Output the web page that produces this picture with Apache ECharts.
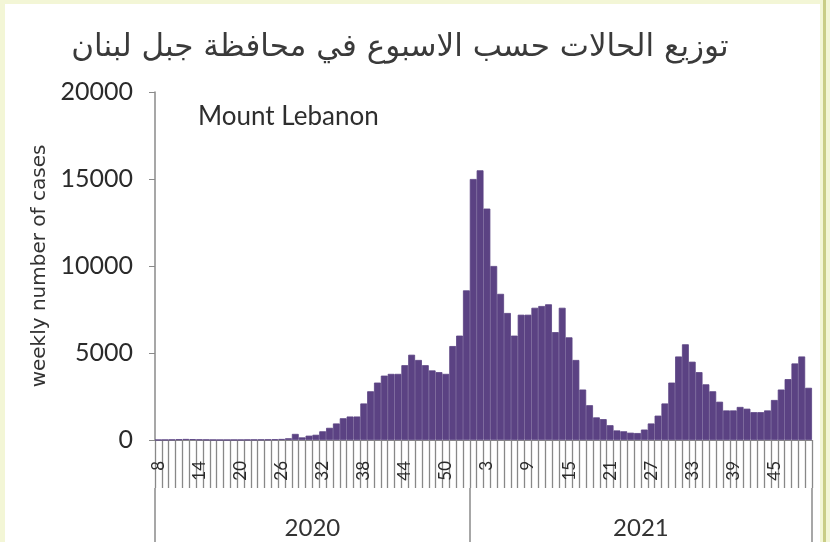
<!DOCTYPE html>
<html>
<head>
<meta charset="utf-8">
<script src="https://cdn.jsdelivr.net/npm/echarts@6/dist/echarts.min.js"></script>
<style>
  html, body { margin: 0; padding: 0; background: #f3f6d6; }
  #wrap { position: absolute; left: 0; top: 0; width: 830px; height: 542px; }
  #chart { position: absolute; left: 5px; top: 4px; width: 815px; height: 538px; background: #ffffff; }
  #edge { position: absolute; left: 823px; top: 0; width: 3px; height: 542px; background: #c9cd86; }
</style>
</head>
<body>
<div id="wrap"><div id="chart"></div><div id="edge"></div></div>
<script>
// ---- data ----
const weeks2020 = [8,9,10,11,12,13,14,15,16,17,18,19,20,21,22,23,24,25,26,27,28,29,30,31,32,33,34,35,36,37,38,39,40,41,42,43,44,45,46,47,48,49,50,51,52,53];
const weeks2021 = [1,2,3,4,5,6,7,8,9,10,11,12,13,14,15,16,17,18,19,20,21,22,23,24,25,26,27,28,29,30,31,32,33,34,35,36,37,38,39,40,41,42,43,44,45,46,47,48,49,50];
const cases2020 = [5,10,20,40,60,50,30,20,10,5,5,10,10,15,20,25,30,40,60,
  100,350,150,250,300,500,700,950,1250,1350,1350,2100,2800,3300,3700,3800,3800,4300,4900,4600,4300,4000,3900,3800,5400,6000,8600];
const cases2021 = [15000,15500,13300,10000,8400,7300,6000,7200,7200,7600,7700,7800,6200,7600,5900,4600,2900,2000,1300,1200,
  850,550,500,420,400,600,950,1400,2100,3300,4800,5500,4500,3900,3200,2800,2200,1700,1700,1900,
  1800,1600,1600,1700,2300,2900,3500,4400,4800,3000];
const years = ['2020', '2021'];
const yTicks = [0, 5000, 10000, 15000, 20000];
const titleText = 'توزيع الحالات حسب الاسبوع في محافظة جبل لبنان';
const subTitle = 'Mount Lebanon';
const yName = 'weekly number of cases';

// ---- build ----
const categories = weeks2020.map(String).concat(weeks2021.map(String));
const values = cases2020.concat(cases2021);
const n2020 = weeks2020.length;
const nAll = categories.length;
const yearBounds = [0, n2020, nAll];
const yearMids = [n2020 / 2, n2020 + (nAll - n2020) / 2];

const chart = echarts.init(document.getElementById('chart'), null, { renderer: 'canvas' });
const font = 'Lato, "Open Sans", sans-serif';
const barColor = '#5b4283';
chart.setOption({
  animation: false,
  backgroundColor: '#ffffff',
  title: [
    { text: titleText, left: 390, top: 23, textAlign: 'center',
      textStyle: { fontFamily: '"DejaVu Sans", "Noto Sans", sans-serif', fontSize: 31, fontWeight: 'normal', color: '#3a3a3a' } },
    { text: subTitle, left: 188, top: 95,
      textStyle: { fontFamily: font, fontSize: 26, fontWeight: 'normal', color: '#2e2e2e' } }
  ],
  grid: { left: 150, right: 8, top: 88, bottom: 102, containLabel: false },
  xAxis: [
    {
      type: 'category', data: categories, position: 'bottom',
      axisLine: { show: true, lineStyle: { color: '#8a8a8a', width: 1 } },
      axisTick: { show: true, interval: 0, length: 48, lineStyle: { color: '#888888', width: 1.3 } },
      axisLabel: { interval: 5, rotate: 90, margin: 21, fontFamily: font, fontSize: 17, color: '#2a2a2a' }
    },
    {
      type: 'value', position: 'bottom', offset: 48, min: 0, max: nAll,
      axisLine: { show: false },
      splitLine: { show: false },
      axisTick: { show: true, length: 56, customValues: yearBounds, lineStyle: { color: '#8a8a8a', width: 1.5 } },
      axisLabel: { customValues: yearMids, margin: 28, fontFamily: font, fontSize: 24, color: '#333',
        formatter: function (v) { return v < n2020 ? years[0] : years[1]; } }
    }
  ],
  yAxis: {
    type: 'value', min: yTicks[0], max: yTicks[yTicks.length - 1], interval: yTicks[1] - yTicks[0],
    name: yName, nameLocation: 'middle', nameRotate: 90, nameGap: 104,
    nameTextStyle: { fontFamily: '"DejaVu Sans", sans-serif', fontSize: 20, color: '#333' },
    axisLine: { show: true, lineStyle: { color: '#8a8a8a', width: 1.5 } },
    axisTick: { show: true, length: 6, lineStyle: { color: '#8a8a8a' } },
    splitLine: { show: false },
    axisLabel: { margin: 22, fontFamily: font, fontSize: 25, color: '#2a2a2a',
      formatter: function (v) { return String(v); } }
  },
  series: [{
    type: 'bar', xAxisIndex: 0, data: values,
    barCategoryGap: '0%', barGap: '0%',
    itemStyle: { color: barColor, borderColor: barColor, borderWidth: 0.8 }
  }]
});
</script>
</body>
</html>
